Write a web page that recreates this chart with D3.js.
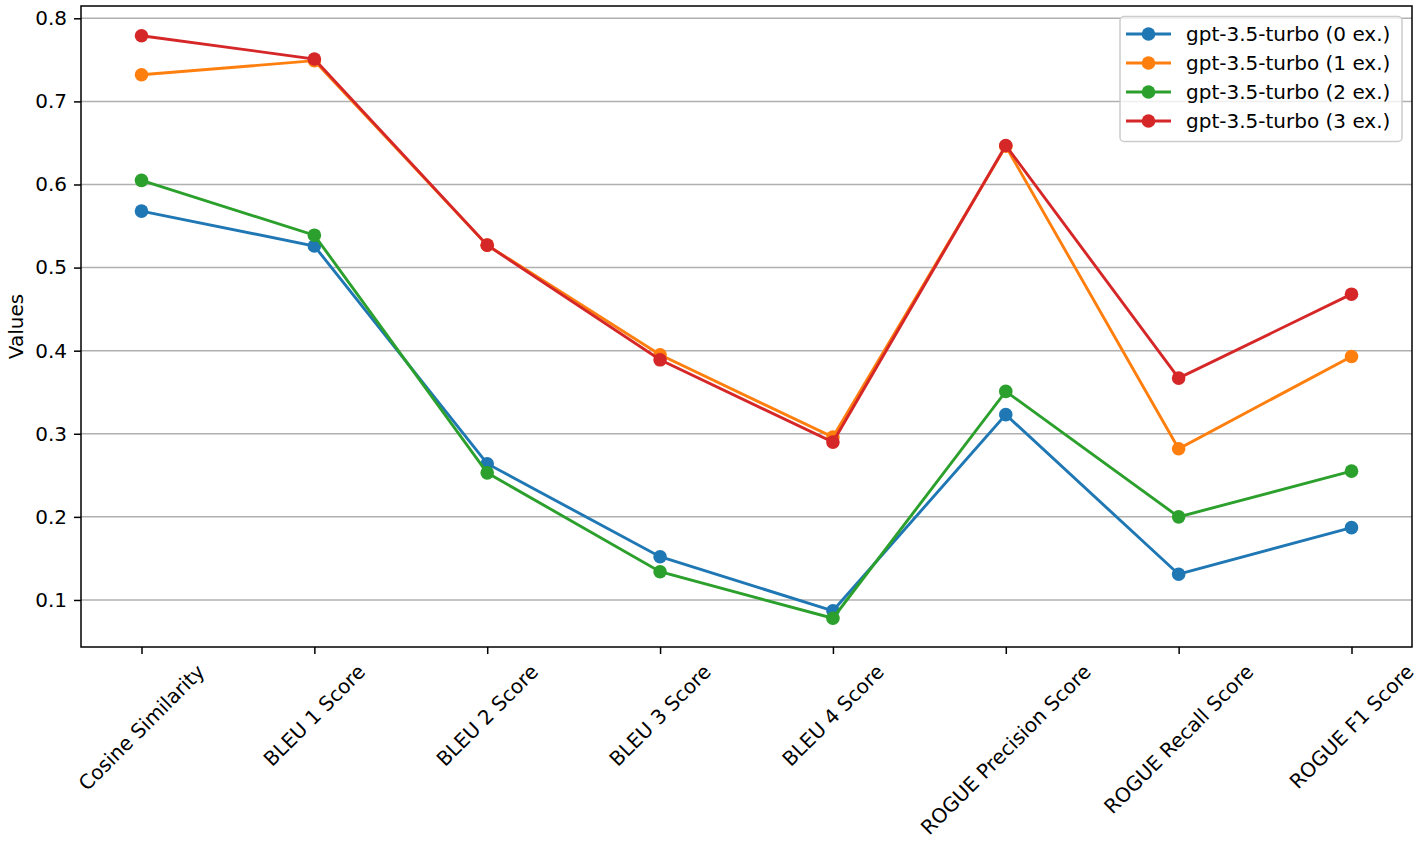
<!DOCTYPE html>
<html><head><meta charset="utf-8">
<script src="https://cdn.jsdelivr.net/npm/d3@7"></script>
<style>body{margin:0;background:#fff;} text{font-family:"DejaVu Sans",sans-serif;}</style>
</head><body>
<svg id="chart" width="1417" height="845"></svg>
<script>
const categories = ["Cosine Similarity","BLEU 1 Score","BLEU 2 Score","BLEU 3 Score","BLEU 4 Score","ROGUE Precision Score","ROGUE Recall Score","ROGUE F1 Score"];
const seriesNames = ["gpt-3.5-turbo (0 ex.)","gpt-3.5-turbo (1 ex.)","gpt-3.5-turbo (2 ex.)","gpt-3.5-turbo (3 ex.)"];
const values0 = [0.568,0.526,0.264,0.152,0.087,0.323,0.131,0.187];
const values1 = [0.732,0.749,0.527,0.395,0.296,0.646,0.282,0.393];
const values2 = [0.605,0.539,0.253,0.134,0.078,0.351,0.200,0.255];
const values3 = [0.779,0.751,0.527,0.389,0.290,0.647,0.367,0.468];
const yTicks = [0.1,0.2,0.3,0.4,0.5,0.6,0.7,0.8];
const colors = ["#1f77b4","#ff7f0e","#2ca02c","#d62728"];
const allSeries = [values0,values1,values2,values3];

const FS = 20;
const svg = d3.select("#chart");
const L=81, R=1412, T=6, B=647;
const x = d3.scaleLinear().domain([-0.35, categories.length-1+0.35]).range([L,R]);
const y = d3.scaleLinear().domain([0.0434, 0.8148]).range([B,T]);

// grid
svg.append("g").selectAll("line").data(yTicks).join("line")
  .attr("x1",L).attr("x2",R).attr("y1",d=>y(d)).attr("y2",d=>y(d))
  .attr("stroke","#b0b0b0").attr("stroke-width",1.5);

// y axis
const yAxis = svg.append("g").attr("transform",`translate(${L},0)`)
  .call(d3.axisLeft(y).tickValues(yTicks).tickFormat(d3.format(".1f")).tickSize(7).tickPadding(7));
yAxis.select(".domain").remove();
yAxis.selectAll("line").attr("stroke","#000").attr("stroke-width",1.5);
yAxis.selectAll("text").attr("font-size",FS).attr("fill","#000").attr("font-family","DejaVu Sans");

// x axis ticks
const xAxis = svg.append("g").attr("transform",`translate(0,${B})`)
  .call(d3.axisBottom(x).tickValues(d3.range(categories.length)).tickFormat(()=>"").tickSize(7));
xAxis.select(".domain").remove();
xAxis.selectAll("line").attr("stroke","#000").attr("stroke-width",1.5);

// x labels rotated, bbox centered on tick
const labTop = 661;
categories.forEach((c,i)=>{
  const t = svg.append("text").text(c).attr("font-size",FS).attr("fill","#000")
    .attr("text-anchor","middle").attr("dominant-baseline","central");
  const w = t.node().getComputedTextLength();
  const h = FS*1.0;
  const half = (w+h)*Math.SQRT1_2/2;
  const cx = x(i), cy = labTop + half;
  t.attr("x",cx).attr("y",cy).attr("transform",`rotate(-45,${cx},${cy})`);
});

// frame
svg.append("rect").attr("x",L).attr("y",T).attr("width",R-L).attr("height",B-T)
  .attr("fill","none").attr("stroke","#000").attr("stroke-width",1.5);

// y label
svg.append("text").text("Values").attr("font-size",FS).attr("fill","#000")
  .attr("text-anchor","middle").attr("transform",`translate(23,${(T+B)/2}) rotate(-90)`);

// lines
const line = d3.line().x((d,i)=>x(i)).y(d=>y(d));
allSeries.forEach((s,k)=>{
  const g = svg.append("g");
  g.append("path").datum(s).attr("d",line).attr("fill","none").attr("stroke",colors[k]).attr("stroke-width",2.9);
  g.selectAll("circle").data(s).join("circle").attr("cx",(d,i)=>x(i)).attr("cy",d=>y(d)).attr("r",6.8).attr("fill",colors[k]);
});

// legend
const lg = svg.append("g");
lg.append("rect").attr("x",1120).attr("y",16.5).attr("width",282).attr("height",125).attr("rx",4)
  .attr("fill","#fff").attr("fill-opacity",0.8).attr("stroke","#cccccc").attr("stroke-width",1.5);
seriesNames.forEach((n,k)=>{
  const yy = 34 + k*29;
  lg.append("line").attr("x1",1126).attr("x2",1171).attr("y1",yy).attr("y2",yy).attr("stroke",colors[k]).attr("stroke-width",2.9);
  lg.append("circle").attr("cx",1148.5).attr("cy",yy).attr("r",6.8).attr("fill",colors[k]);
  lg.append("text").text(n).attr("x",1186).attr("y",yy).attr("dominant-baseline","central").attr("font-size",FS).attr("fill","#000");
});
</script>
</body></html>
